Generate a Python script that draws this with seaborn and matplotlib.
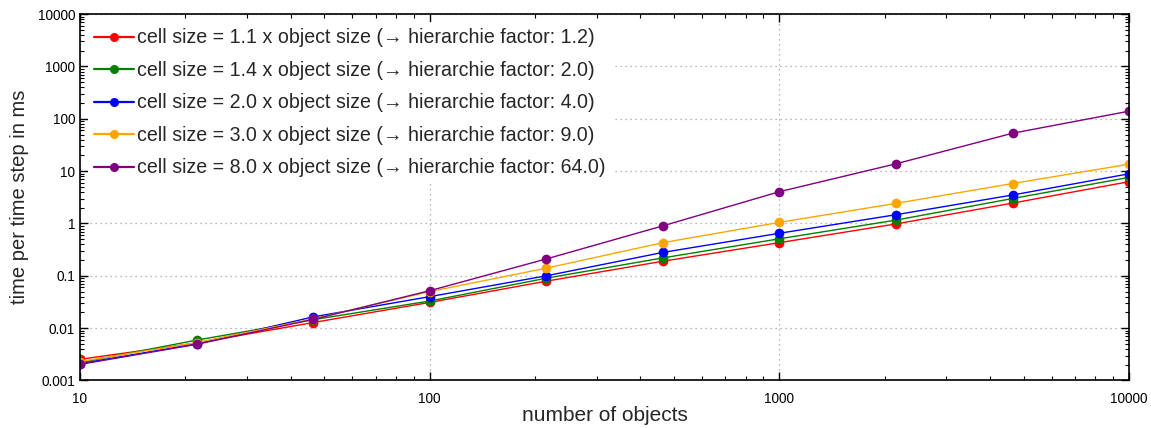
import numpy as np
import pandas as pd
import matplotlib
matplotlib.use("Agg")
import matplotlib.pyplot as plt
from matplotlib.ticker import FuncFormatter, LogLocator
import seaborn as sns

# Number of simulated objects (three samples per decade)
n_objects = [10, 21.54, 46.42, 100, 215.4, 464.2, 1000, 2154, 4642, 10000]

# Measured time per time step in ms for each cell size setting
t_cell_1_1 = [0.00254, 0.0052, 0.0128, 0.031, 0.079, 0.19, 0.43, 0.98, 2.45, 6.3]
t_cell_1_4 = [0.0022, 0.0059, 0.0145, 0.033, 0.090, 0.22, 0.51, 1.16, 3.0, 7.6]
t_cell_2_0 = [0.0021, 0.0050, 0.0164, 0.040, 0.100, 0.28, 0.65, 1.47, 3.5, 8.9]
t_cell_3_0 = [0.0023, 0.0053, 0.0150, 0.050, 0.140, 0.43, 1.05, 2.42, 5.8, 13.6]
t_cell_8_0 = [0.00203, 0.0049, 0.0147, 0.052, 0.21, 0.90, 4.05, 13.8, 53.0, 140.0]

labels = [
    "cell size = 1.1 x object size (\u2192 hierarchie factor: 1.2)",
    "cell size = 1.4 x object size (\u2192 hierarchie factor: 2.0)",
    "cell size = 2.0 x object size (\u2192 hierarchie factor: 4.0)",
    "cell size = 3.0 x object size (\u2192 hierarchie factor: 9.0)",
    "cell size = 8.0 x object size (\u2192 hierarchie factor: 64.0)",
]
series = [t_cell_1_1, t_cell_1_4, t_cell_2_0, t_cell_3_0, t_cell_8_0]
colors = ["#ff0000", "#008000", "#0000ff", "#ffa500", "#800080"]

x_ticks = [10, 100, 1000, 10000]
y_ticks = [0.001, 0.01, 0.1, 1, 10, 100, 1000, 10000]

df = pd.concat(
    [pd.DataFrame({"n": n_objects, "t": vals, "setting": lab})
     for lab, vals in zip(labels, series)],
    ignore_index=True,
)

sns.set_style("white")
plt.rcParams["font.family"] = ["Liberation Sans", "DejaVu Sans"]
plt.rcParams["xtick.direction"] = "in"
plt.rcParams["ytick.direction"] = "in"

fig = plt.figure(figsize=(11.51, 4.28), dpi=100)
ax = fig.add_axes([0.0695, 0.111, 0.9115, 0.856])

sns.lineplot(
    data=df, x="n", y="t", hue="setting", hue_order=labels,
    palette=colors, marker="o", markersize=7, markeredgewidth=0,
    linewidth=1.0, ax=ax, sort=False,
)

ax.set_xscale("log")
ax.set_yscale("log")
ax.set_xlim(10, 10000)
ax.set_ylim(0.001, 10000)

fmt = FuncFormatter(lambda v, _: "{:g}".format(v))
ax.set_xticks(x_ticks)
ax.set_yticks(y_ticks)
ax.xaxis.set_major_formatter(fmt)
ax.yaxis.set_major_formatter(fmt)
ax.xaxis.set_minor_locator(LogLocator(base=10, subs=np.arange(2, 10), numticks=20))
ax.yaxis.set_minor_locator(LogLocator(base=10, subs=np.arange(2, 10), numticks=20))

ax.tick_params(which="both", direction="in", top=True, right=True,
               bottom=True, left=True, colors="black", labelsize=9.8)
ax.tick_params(which="major", length=6, width=1)
ax.tick_params(which="minor", length=3, width=0.8)
ax.tick_params(axis="x", pad=8)

for sp in ax.spines.values():
    sp.set_color("black")
    sp.set_linewidth(1.2)

ax.grid(True, which="major", linestyle=(0, (1, 3)), color="#a0a0a0", linewidth=0.9)
ax.set_axisbelow(True)

ax.set_xlabel("number of objects", fontsize=15, labelpad=0)
ax.set_ylabel("time per time step in ms", fontsize=14.5, labelpad=6)

leg = ax.legend(
    loc="upper left", fontsize=14.1, frameon=True, fancybox=False,
    handlelength=2.05, handletextpad=0.15, labelspacing=0.69,
    borderaxespad=0.4, borderpad=0.33,
)
leg.get_frame().set_facecolor("white")
leg.get_frame().set_edgecolor("none")
leg.get_frame().set_alpha(1.0)
for line in leg.get_lines():
    line.set_markersize(6.5)
    line.set_linewidth(1.6)

fig.savefig("out.png", dpi=100)
